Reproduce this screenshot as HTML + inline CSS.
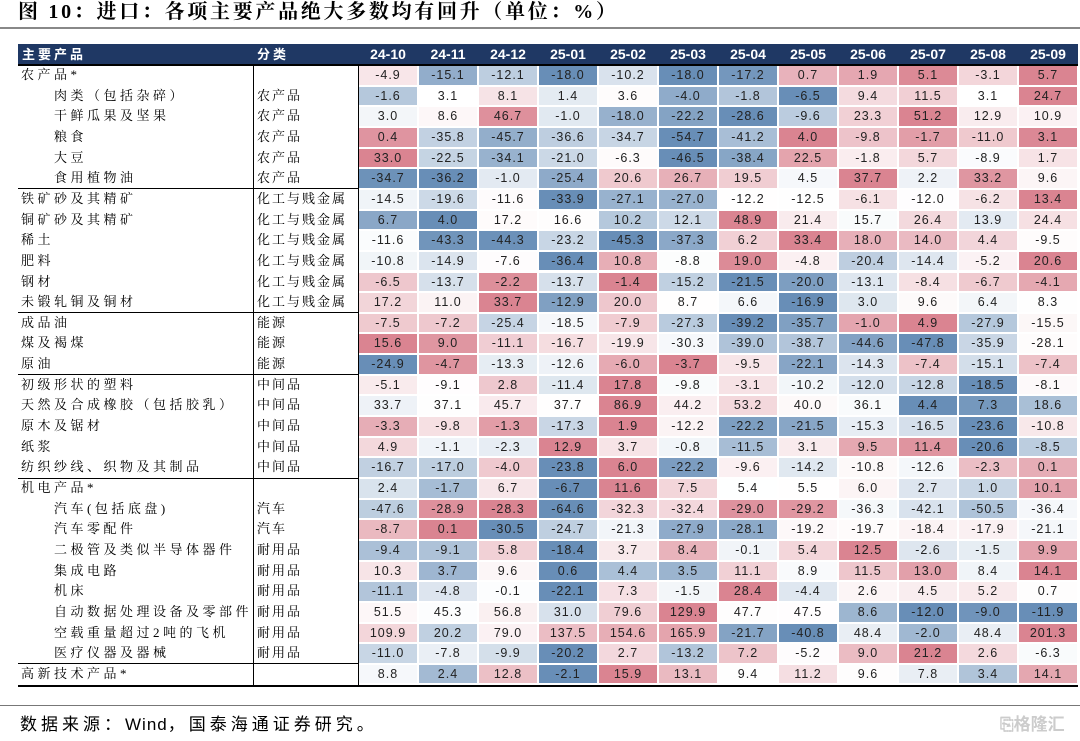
<!DOCTYPE html>
<html><head><meta charset="utf-8"><style>
body{margin:0;width:1080px;height:741px;background:#fff;position:relative;overflow:hidden;font-family:"Liberation Sans","Noto Sans CJK SC",sans-serif}
.a{position:absolute;box-sizing:border-box}
.title{left:18px;top:-1px;font:bold 20px "Liberation Serif","Noto Serif CJK SC",serif;color:#000;white-space:nowrap;line-height:26px;letter-spacing:2.7px}
.lbl{font:13px "Liberation Serif","Noto Serif CJK SC",serif;color:#000;white-space:nowrap;line-height:20px;letter-spacing:3.5px}
.cat{letter-spacing:2px}
.cell{font:12.5px "Liberation Sans","Noto Sans CJK SC",sans-serif;color:#222;text-align:center;line-height:18px;letter-spacing:1px}
.hd{color:#fff;font:bold 14px "Liberation Sans","Noto Sans CJK SC",sans-serif;line-height:21px;text-align:center}
</style></head><body>
<div class="a title">图 10：进口：各项主要产品绝大多数均有回升（单位：%）</div>
<div class="a" style="left:0;top:27px;width:1080px;height:2px;background:#888"></div>
<div id="tbl"></div>
<div class="a" style="left:0;top:705px;width:1080px;height:1px;background:#777"></div>
<div class="a lbl" style="left:20px;top:714px;font:17px 'Liberation Sans','Noto Sans CJK SC',sans-serif;line-height:22px;letter-spacing:4px">数据来源：<span style="letter-spacing:1px">Wind</span>，国泰海通证券研究。</div>
<div class="a" style="left:1000px;top:710px;font:bold 17px 'Liberation Sans','Noto Sans CJK SC',sans-serif;color:#ccc">⎘格隆汇</div>
<script>
const months=["24-10","24-11","24-12","25-01","25-02","25-03","25-04","25-05","25-06","25-07","25-08","25-09"];
const products=["农产品*","肉类（包括杂碎）","干鲜瓜果及坚果","粮食","大豆","食用植物油","铁矿砂及其精矿","铜矿砂及其精矿","稀土","肥料","钢材","未锻轧铜及铜材","成品油","煤及褐煤","原油","初级形状的塑料","天然及合成橡胶（包括胶乳）","原木及锯材","纸浆","纺织纱线、织物及其制品","机电产品*","汽车(包括底盘)","汽车零配件","二极管及类似半导体器件","集成电路","机床","自动数据处理设备及零部件","空载重量超过2吨的飞机","医疗仪器及器械","高新技术产品*"];
const categories=["","农产品","农产品","农产品","农产品","农产品","化工与贱金属","化工与贱金属","化工与贱金属","化工与贱金属","化工与贱金属","化工与贱金属","能源","能源","能源","中间品","中间品","中间品","中间品","中间品","","汽车","汽车","耐用品","耐用品","耐用品","耐用品","耐用品","耐用品",""];
const indented=[0,1,1,1,1,1,0,0,0,0,0,0,0,0,0,0,0,0,0,0,0,1,1,1,1,1,1,1,1,0];
const groupEnds=[5,11,14,19,28];
const values=[
[-4.9,-15.1,-12.1,-18.0,-10.2,-18.0,-17.2,0.7,1.9,5.1,-3.1,5.7],
[-1.6,3.1,8.1,1.4,3.6,-4.0,-1.8,-6.5,9.4,11.5,3.1,24.7],
[3.0,8.6,46.7,-1.0,-18.0,-22.2,-28.6,-9.6,23.3,51.2,12.9,10.9],
[0.4,-35.8,-45.7,-36.6,-34.7,-54.7,-41.2,4.0,-9.8,-1.7,-11.0,3.1],
[33.0,-22.5,-34.1,-21.0,-6.3,-46.5,-38.4,22.5,-1.8,5.7,-8.9,1.7],
[-34.7,-36.2,-1.0,-25.4,20.6,26.7,19.5,4.5,37.7,2.2,33.2,9.6],
[-14.5,-19.6,-11.6,-33.9,-27.1,-27.0,-12.2,-12.5,-6.1,-12.0,-6.2,13.4],
[6.7,4.0,17.2,16.6,10.2,12.1,48.9,21.4,15.7,26.4,13.9,24.4],
[-11.6,-43.3,-44.3,-23.2,-45.3,-37.3,6.2,33.4,18.0,14.0,4.4,-9.5],
[-10.8,-14.9,-7.6,-36.4,10.8,-8.8,19.0,-4.8,-20.4,-14.4,-5.2,20.6],
[-6.5,-13.7,-2.2,-13.7,-1.4,-15.2,-21.5,-20.0,-13.1,-8.4,-6.7,-4.1],
[17.2,11.0,33.7,-12.9,20.0,8.7,6.6,-16.9,3.0,9.6,6.4,8.3],
[-7.5,-7.2,-25.4,-18.5,-7.9,-27.3,-39.2,-35.7,-1.0,4.9,-27.9,-15.5],
[15.6,9.0,-11.1,-16.7,-19.9,-30.3,-39.0,-38.7,-44.6,-47.8,-35.9,-28.1],
[-24.9,-4.7,-13.3,-12.6,-6.0,-3.7,-9.5,-22.1,-14.3,-7.4,-15.1,-7.4],
[-5.1,-9.1,2.8,-11.4,17.8,-9.8,-3.1,-10.2,-12.0,-12.8,-18.5,-8.1],
[33.7,37.1,45.7,37.7,86.9,44.2,53.2,40.0,36.1,4.4,7.3,18.6],
[-3.3,-9.8,-1.3,-17.3,1.9,-12.2,-22.2,-21.5,-15.3,-16.5,-23.6,-10.8],
[4.9,-1.1,-2.3,12.9,3.7,-0.8,-11.5,3.1,9.5,11.4,-20.6,-8.5],
[-16.7,-17.0,-4.0,-23.8,6.0,-22.2,-9.6,-14.2,-10.8,-12.6,-2.3,0.1],
[2.4,-1.7,6.7,-6.7,11.6,7.5,5.4,5.5,6.0,2.7,1.0,10.1],
[-47.6,-28.9,-28.3,-64.6,-32.3,-32.4,-29.0,-29.2,-36.3,-42.1,-50.5,-36.4],
[-8.7,0.1,-30.5,-24.7,-21.3,-27.9,-28.1,-19.2,-19.7,-18.4,-17.9,-21.1],
[-9.4,-9.1,5.8,-18.4,3.7,8.4,-0.1,5.4,12.5,-2.6,-1.5,9.9],
[10.3,3.7,9.6,0.6,4.4,3.5,11.1,8.9,11.5,13.0,8.4,14.1],
[-11.1,-4.8,-0.1,-22.1,7.3,-1.5,28.4,-4.4,2.6,4.5,5.2,0.7],
[51.5,45.3,56.8,31.0,79.6,129.9,47.7,47.5,8.6,-12.0,-9.0,-11.9],
[109.9,20.2,79.0,137.5,154.6,165.9,-21.7,-40.8,48.4,-2.0,48.4,201.3],
[-11.0,-7.8,-9.9,-20.2,2.7,-13.2,7.2,-5.2,9.0,21.2,2.6,-6.3],
[8.8,2.4,12.8,-2.1,15.9,13.1,9.4,11.2,9.6,7.8,3.4,14.1]
];
const T=document.getElementById('tbl');
const L=18,C1=253,C2=358,R=1078,HT=44,HH=21,RH=20.65;
const CW=(R-C2)/months.length;
const xCol=i=>C2+i*CW;
const yRow=r=>HT+HH+r*RH;
function mk(cls,css,txt){const d=document.createElement('div');d.className='a '+cls;d.style.cssText=css;if(txt!==undefined)d.textContent=txt;T.appendChild(d);return d;}
const BLUE=[104,142,183],RED=[218,132,145],W=[255,255,255];
function mix(a,b,t){return 'rgb('+a.map((v,i)=>Math.round(v+(b[i]-v)*t)).join(',')+')';}
function colorFor(v,row){const s=[...row].sort((a,b)=>a-b);const mn=s[0],mx=s[s.length-1];const md=(s[5]+s[6])/2;
 if(v<=md){return md===mn?'#fff':mix(W,BLUE,(md-v)/(md-mn));} return mx===md?'#fff':mix(W,RED,(v-md)/(mx-md));}
let h=mk('', `left:${L}px;top:${HT}px;width:${R-L}px;height:${HH}px;background:#1f3864`);


let hp=mk('hd',`left:${L+4}px;top:${HT}px;text-align:left;font-size:13px;letter-spacing:3px`,'主要产品');


let hc=mk('hd',`left:${C1+4}px;top:${HT}px;text-align:left;font-size:13px;letter-spacing:3px`,'分类');


months.forEach((m,i)=>{const d=mk('hd',`left:${xCol(i)}px;top:${HT}px;width:${CW}px`,m);

});
let hl=mk('',`left:${L}px;top:${HT+HH-1}px;width:${R-L}px;height:2px;background:#000`);


products.forEach((p,r)=>{const y=yRow(r);
 const pl=mk('lbl',`left:${L+3+(indented[r]?33:0)}px;top:${y}px`,p);
 
 
 const cl=mk('lbl cat',`left:${C1+4}px;top:${y}px`,categories[r]);
 
 
 values[r].forEach((v,i)=>{const c=mk('cell',`left:${xCol(i)+1}px;top:${y+1}px;width:${CW-2}px;height:${RH-2}px;background:${colorFor(v,values[r])}`,v.toFixed(1));
  
  });
});
const bodyBottom=yRow(products.length);
[C1,C2].forEach(x=>{const v=mk('',`left:${x}px;top:${HT+HH}px;width:1px;height:${bodyBottom-HT-HH}px;background:#000`);

});
groupEnds.forEach(g=>{const ln=mk('',`left:${L}px;top:${yRow(g+1)-0.5}px;width:${C2-L}px;height:1px;background:#000`);

});
const bl=mk('',`left:${L}px;top:${bodyBottom}px;width:${R-L}px;height:2px;background:#000`);


</script>
</body></html>
